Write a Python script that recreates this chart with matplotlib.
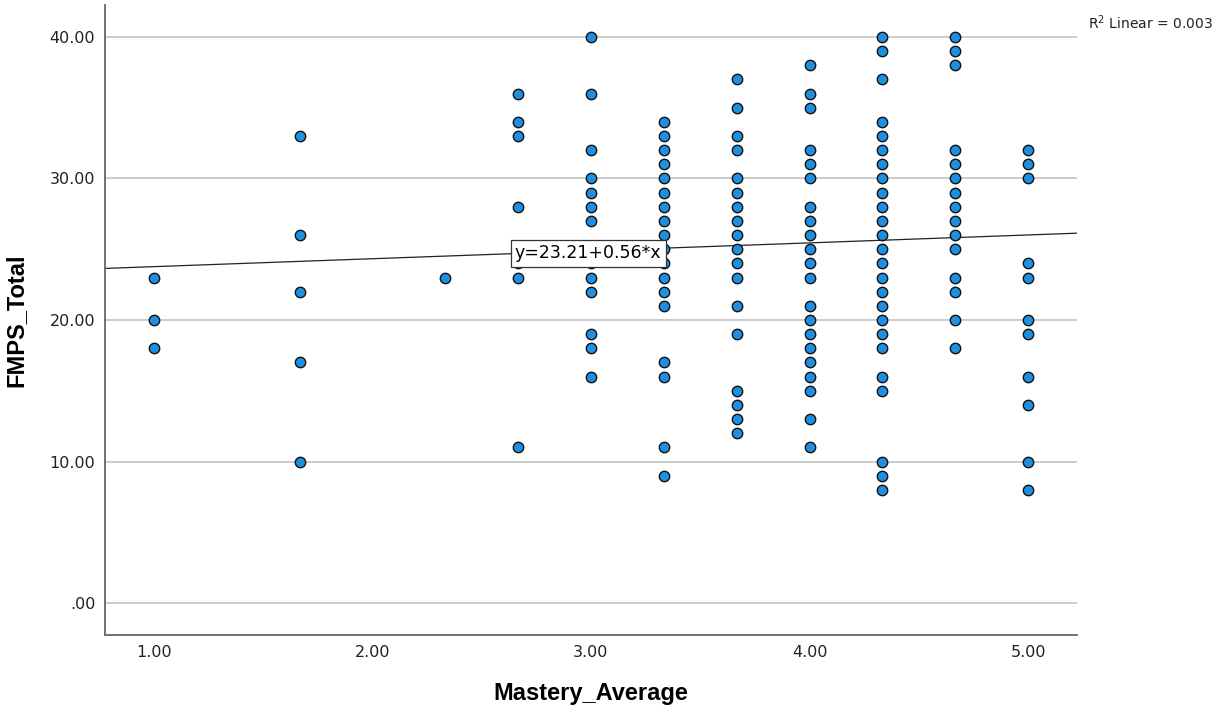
import matplotlib
matplotlib.use("Agg")
import matplotlib.pyplot as plt
import numpy as np

# Data (x = Mastery_Average, y = FMPS_Total)
x_100 = [1.0] * 3
y_100 = [23, 20, 18]
x_167 = [5 / 3] * 5
y_167 = [33, 26, 22, 17, 10]
x_233 = [7 / 3]
y_233 = [23]
x_267 = [8 / 3] * 7
y_267 = [36, 34, 33, 28, 24, 23, 11]
x_300 = [3.0] * 13
y_300 = [40, 36, 32, 30, 29, 28, 27, 23, 22, 19, 18, 16, 24]
x_333 = [10 / 3] * 18
y_333 = [34, 33, 32, 31, 30, 29, 28, 27, 26, 25, 24, 23, 22, 21, 17, 16, 11, 9]
x_367 = [11 / 3] * 18
y_367 = [37, 35, 33, 32, 30, 29, 28, 27, 26, 25, 24, 23, 21, 19, 15, 14, 13, 12]
x_400 = [4.0] * 21
y_400 = [38, 36, 35, 32, 31, 30, 28, 27, 26, 25, 24, 23, 21, 20, 19, 18, 17, 16, 15, 13, 11]
x_433 = [13 / 3] * 25
y_433 = [40, 39, 37, 34, 33, 32, 31, 30, 29, 28, 27, 26, 25, 24, 23, 22, 21, 20, 19, 18,
         16, 15, 10, 9, 8]
x_467 = [14 / 3] * 15
y_467 = [40, 39, 38, 32, 31, 30, 29, 28, 27, 26, 25, 23, 22, 20, 18]
x_500 = [5.0] * 11
y_500 = [32, 31, 30, 24, 23, 20, 19, 16, 14, 10, 8]

mastery = x_100 + x_167 + x_233 + x_267 + x_300 + x_333 + x_367 + x_400 + x_433 + x_467 + x_500
fmps = y_100 + y_167 + y_233 + y_267 + y_300 + y_333 + y_367 + y_400 + y_433 + y_467 + y_500

intercept = 23.21
slope = 0.56
r2_text = "R$^2$ Linear = 0.003"
eq_text = "y=23.21+0.56*x"

x_ticks = [1, 2, 3, 4, 5]
x_ticklabels = ["1.00", "2.00", "3.00", "4.00", "5.00"]
y_ticks = [0, 10, 20, 30, 40]
y_ticklabels = [".00", "10.00", "20.00", "30.00", "40.00"]

fig = plt.figure(figsize=(12.28, 7.10), dpi=100)
ax = fig.add_axes([105 / 1228, 1 - 635 / 710, (1077 - 105) / 1228, (635 - 5) / 710])

xlim = (0.776, 5.224)
ylim = (-2.26, 42.26)
ax.set_xlim(*xlim)
ax.set_ylim(*ylim)

ax.set_yticks(y_ticks)
ax.set_yticklabels(y_ticklabels)
ax.set_xticks(x_ticks)
ax.set_xticklabels(x_ticklabels)
ax.tick_params(axis="both", length=0, labelsize=11.5, colors="#222222", pad=7)
ax.tick_params(axis="x", pad=7)

ax.grid(axis="y", color="#c8c8c8", linewidth=1.3)
ax.set_axisbelow(True)
for s in ["top", "right"]:
    ax.spines[s].set_visible(False)
for s in ["left", "bottom"]:
    ax.spines[s].set_color("#666666")
    ax.spines[s].set_linewidth(1.3)

lx = np.array(xlim)
ax.plot(lx, intercept + slope * lx, color="#222222", linewidth=0.9, zorder=2)

ax.scatter(mastery, fmps, s=56, facecolor="#1f8fe0", edgecolor="#111111",
           linewidth=1.0, zorder=3)

ax.text(2.652, 24.72, eq_text, fontsize=12.5, ha="left", va="center", zorder=4,
        bbox=dict(boxstyle="square,pad=0.25", facecolor="white", edgecolor="#333333",
                  linewidth=0.9))

ax.set_xlabel("Mastery_Average", fontsize=17, fontweight="bold",
              family="Liberation Sans", labelpad=16)
ax.set_ylabel("FMPS_Total", fontsize=17, fontweight="bold",
              family="Liberation Sans", labelpad=16)

fig.text(1088 / 1228, 1 - 23 / 710, r2_text, fontsize=10, ha="left", va="center",
         color="#222222")

fig.savefig("out.png", dpi=100)
